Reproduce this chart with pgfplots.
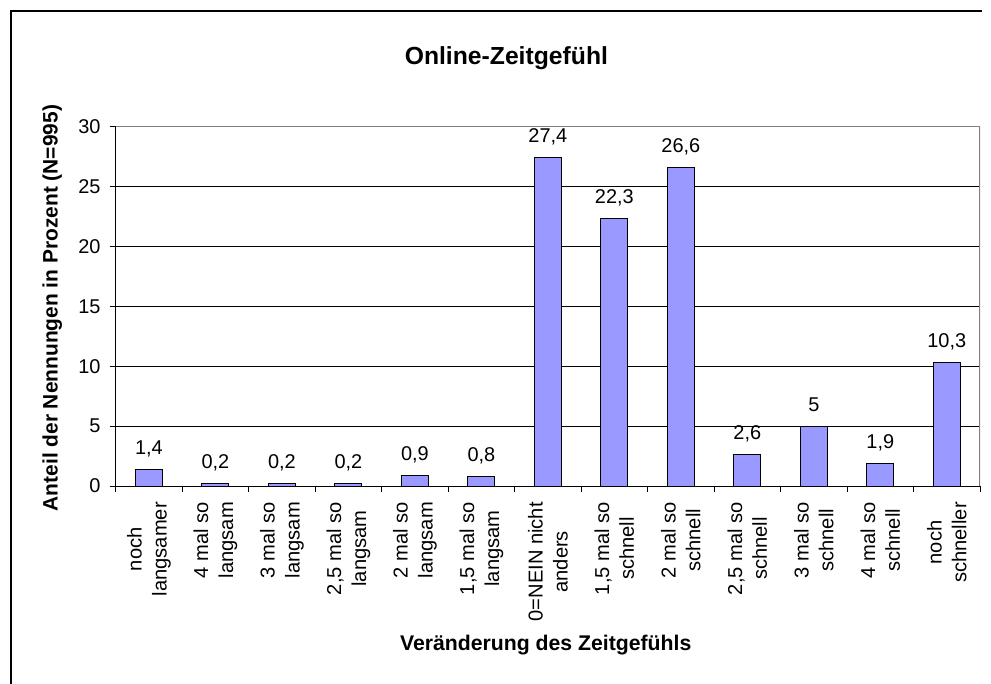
\documentclass[border=0pt]{standalone}
\usepackage{pgfplots}
\pgfplotsset{compat=1.18}
\usepackage{fontspec}
\setmainfont{Liberation Sans}
\definecolor{barblue}{HTML}{9999FF}
\definecolor{bordergray}{HTML}{808080}
\begin{document}
\begin{tikzpicture}
\useasboundingbox (0,0) rectangle (991bp,684bp);
\draw[line width=2bp] (11bp,0) -- (11bp,673bp) -- (982bp,673bp);
\begin{axis}[
  at={(115.7bp,198bp)}, anchor=south west,
  scale only axis, width=864.3bp, height=359.3bp,
  /pgf/number format/.cd, use comma, 1000 sep={}, assume math mode=true,
  /pgfplots/.cd,
  ybar, bar width=27bp,
  xmin=0.5, xmax=13.5, ymin=0, ymax=30,
  xtick={0.5,1.5,2.5,3.5,4.5,5.5,6.5,7.5,8.5,9.5,10.5,11.5,12.5,13.5},
  x tick label as interval,
  xticklabels={{noch\\langsamer},{4 mal so\\langsam},{3 mal so\\langsam},{2,5 mal so\\langsam},{2 mal so\\langsam},{1,5 mal so\\langsam},{0=NEIN nicht\\anders},{1,5 mal so\\schnell},{2 mal so\\schnell},{2,5 mal so\\schnell},{3 mal so\\schnell},{4 mal so\\schnell},{noch\\schneller}},
  ytick={0,5,10,15,20,25,30},
  tick align=outside, major tick length=6bp,
  tick style={black, line width=0.8bp},
  axis x line*=bottom, axis y line*=left,
  axis line style={black, line width=0.8bp},
  ymajorgrids, grid style={black, line width=0.8bp},
  xticklabel style={font=\fontsize{20.2}{25}\selectfont, inner sep=0pt, rotate=90, anchor=east, align=center},
  xticklabel shift=10bp,
  yticklabel style={font=\fontsize{20}{23}\selectfont, inner sep=0pt},
  yticklabel shift=9bp,
  xlabel={Veränderung des Zeitgefühls},
  xlabel style={at={(axis description cs:0.4975,-0.4425)}, anchor=center, font=\bfseries\fontsize{21.3}{25}\selectfont},
  ylabel={Anteil der Nennungen in Prozent (N=995)},
  ylabel style={at={(axis description cs:-0.0735,0.495)}, anchor=center, font=\bfseries\fontsize{21}{25}\selectfont},
  title={Online-Zeitgefühl},
  title style={at={(axis description cs:0.452,1.175)}, anchor=center, yshift=0pt, font=\bfseries\fontsize{24.8}{29}\selectfont},
  nodes near coords,
  nodes near coords style={font=\fontsize{20}{23}\selectfont, anchor=base, inner sep=0pt, yshift=15bp},
]
\addplot[fill=barblue, draw=black, line width=1bp] coordinates {
  (1,1.4) (2,0.2) (3,0.2) (4,0.2) (5,0.9) (6,0.8) (7,27.4)
  (8,22.3) (9,26.6) (10,2.6) (11,5) (12,1.9) (13,10.3)
};
\draw[bordergray, line width=1.2bp] (rel axis cs:0,1) -- (rel axis cs:1,1) -- (rel axis cs:1,0);
\end{axis}
\end{tikzpicture}
\end{document}
